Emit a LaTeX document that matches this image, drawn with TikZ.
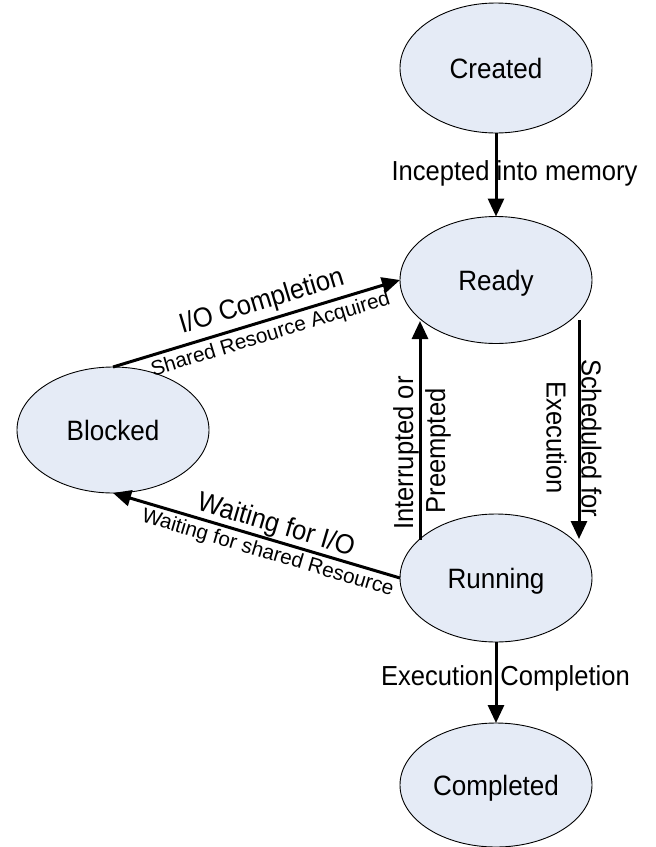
\documentclass[tikz,border=0pt]{standalone}
\usepackage{fontspec}
\setmainfont{Liberation Sans}[FakeStretch=0.93]
\newfontfamily\labelsmall{Liberation Sans}
\usetikzlibrary{arrows.meta,shapes.geometric,calc}
\definecolor{statefill}{RGB}{229,235,246}
\begin{document}
\begin{tikzpicture}[x=1pt,y=-1pt,
  state/.style={ellipse, draw=black, line width=0.9pt, fill=statefill,
    inner sep=0pt, outer sep=0pt, minimum width=192pt,
    font=\fontsize{28}{33}\selectfont, text height=20pt, text depth=0pt},
  trans/.style={line width=3pt, -{Triangle[width=16pt,length=18pt]}},
  lbl/.style={font=\fontsize{27.5}{33}\selectfont, inner sep=0pt},
  sublbl/.style={font=\labelsmall\fontsize{20.7}{24}\selectfont, inner sep=0pt}]
\useasboundingbox (0,0) rectangle (656,847);

% process states
\node[state, minimum height=130pt] (created)   at (496,68)  {Created};
\node[state, minimum height=127pt] (ready)     at (496,280) {Ready};
\node[state, minimum height=126pt] (blocked)   at (113,430) {Blocked};
\node[state, minimum height=128pt] (running)   at (496,578) {Running};
\node[state, minimum height=124pt] (completed) at (496,785) {Completed};

% Created -> Ready
\draw[trans] (created.south) -- (ready.north) coordinate[pos=0.5] (incM);
\node[lbl, anchor=base] at ($(incM)+(18.5,5.5)$) {Incepted into memory};

% Ready -> Running
\coordinate (schA) at ($(ready.center)+(83,40)$);
\coordinate (schB) at ($(running.center)+(83,-39)$);
\draw[trans] (schA) -- (schB);
\coordinate (schM) at ($(schA)!0.5!(schB)$);
\node[lbl, rotate=-90, anchor=base] at ($(schM)+(2.5,8.5)$) {Scheduled for};
\node[lbl, rotate=-90, anchor=base] at ($(schM)+(-32.5,8)$) {Execution};

% Running -> Ready
\coordinate (intA) at ($(running.center)+(-76,-38)$);
\coordinate (intB) at ($(ready.center)+(-76,41)$);
\draw[trans] (intA) -- (intB);
\coordinate (intM) at ($(intA)!0.5!(intB)$);
\node[lbl, rotate=90, anchor=base] at ($(intM)+(-7,22.5)$) {Interrupted or};
\node[lbl, rotate=90, anchor=base] at ($(intM)+(25,20.5)$) {Preempted};

% Blocked -> Ready
\draw[trans] (blocked.north) -- (ready.west);
\coordinate (ioM) at ($(blocked.north)!0.538!(ready.west)$);
\coordinate (shM) at ($(blocked.north)!0.534!(ready.west)$);
\node[lbl, rotate=16.86, anchor=base] at ($(ioM)!11.7pt!90:(ready.west)$) {I/O Completion};
\node[sublbl, rotate=16.86, anchor=base] at ($(shM)!20.4pt!-90:(ready.west)$) {Shared Resource Acquired};

% Running -> Blocked
\draw[trans] (running.west) -- (blocked.south);
\coordinate (waM) at ($(blocked.south)!0.553!(running.west)$);
\node[lbl, rotate=-16.5, anchor=base] at ($(waM)!7.6pt!90:(running.west)$) {Waiting for I/O};
\node[sublbl, rotate=-16.5, anchor=base] at ($(waM)!19.6pt!-90:(running.west)$) {Waiting for shared Resource};

% Running -> Completed
\draw[trans] (running.south) -- (completed.north) coordinate[pos=0.5] (exM);
\node[lbl, anchor=base] at ($(exM)+(9.5,3)$) {Execution Completion};
\end{tikzpicture}
\end{document}
